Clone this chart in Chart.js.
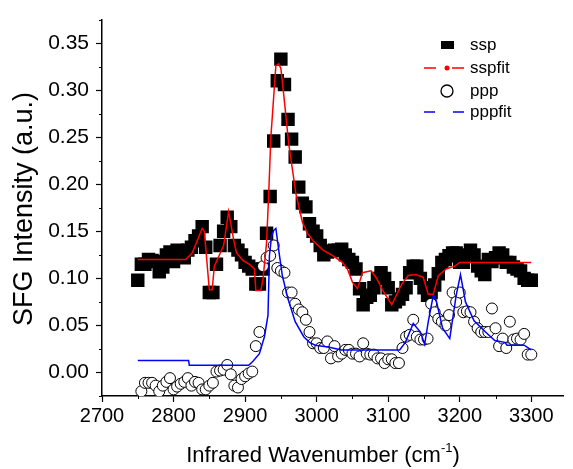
<!DOCTYPE html>
<html>
<head>
<meta charset="utf-8">
<script src="https://cdn.jsdelivr.net/npm/chart.js@4/dist/chart.umd.min.js"></script>
<style>
  html, body { margin: 0; padding: 0; background: #fff; }
  #wrap { width: 573px; height: 469px; }
</style>
</head>
<body>
<div id="wrap"><canvas id="chart" width="573" height="469"></canvas></div>
<script>
// ---------------------
// DATA
// ---------------------
const wavenumbers = [
  2750, 2755, 2760, 2765, 2770, 2775, 2780, 2785, 2790, 2795,
  2800, 2805, 2810, 2815, 2820, 2825, 2830, 2835, 2840, 2845,
  2850, 2855, 2860, 2865, 2870, 2875, 2880, 2885, 2890, 2895,
  2900, 2905, 2910, 2915, 2920, 2925, 2930, 2935, 2940, 2945,
  2950, 2955, 2960, 2965, 2970, 2975, 2980, 2985, 2990, 2995,
  3000, 3005, 3010, 3015, 3020, 3025, 3030, 3035, 3040, 3045,
  3050, 3055, 3060, 3065, 3070, 3075, 3080, 3085, 3090, 3095,
  3100, 3105, 3110, 3115, 3120, 3125, 3130, 3135, 3140, 3145,
  3150, 3155, 3160, 3165, 3170, 3175, 3180, 3185, 3190, 3195,
  3200, 3205, 3210, 3215, 3220, 3225, 3230, 3235, 3240, 3245,
  3250, 3255, 3260, 3265, 3270, 3275, 3280, 3285, 3290, 3295,
  3300
];

const ssp = [
  0.098, 0.115, 0.115, 0.120, 0.119, 0.118, 0.107, 0.112, 0.125, 0.128,
  0.118, 0.130, 0.125, 0.122, 0.130, 0.133, 0.140, 0.145, 0.155, 0.133,
  0.085, 0.085, 0.115, 0.135, 0.150, 0.165, 0.155, 0.135, 0.130, 0.125,
  0.117, 0.113, 0.110, 0.094, 0.094, 0.110, 0.148, 0.187, 0.246, 0.310,
  0.333, 0.306, 0.269, 0.248, 0.229, 0.197, 0.180, 0.176, 0.158, 0.150,
  0.145, 0.135, 0.125, 0.128, 0.129, 0.130, 0.130, 0.131, 0.125, 0.120,
  0.117, 0.110, 0.089, 0.072, 0.080, 0.082, 0.090, 0.100, 0.106, 0.100,
  0.090, 0.072, 0.075, 0.078, 0.083, 0.090, 0.106, 0.113, 0.113, 0.100,
  0.090, 0.082, 0.085, 0.093, 0.105, 0.117, 0.120, 0.124, 0.127, 0.127,
  0.117, 0.117, 0.125, 0.130, 0.125, 0.113, 0.108, 0.104, 0.120, 0.118,
  0.122, 0.127, 0.125, 0.117, 0.117, 0.112, 0.110, 0.108, 0.100, 0.098,
  0.098
];

const ppp = [
  null, -0.020, -0.011, -0.011, -0.011, -0.014, -0.020, -0.014, -0.010, -0.006,
  -0.018, -0.015, -0.012, -0.010, -0.006, -0.014, -0.010, -0.011, -0.018, -0.018,
  -0.014, -0.011, 0.001, 0.002, 0.003, 0.008, -0.002, -0.014, -0.016, -0.007,
  -0.004, -0.001, 0.001, 0.028, 0.043, 0.113, 0.122, 0.124, 0.135, 0.111,
  0.108, 0.106, 0.085, 0.085, 0.073, 0.067, 0.064, 0.056, 0.043, 0.031,
  0.031, 0.026, 0.026, 0.033, 0.015, 0.028, 0.017, 0.020, 0.024, 0.024,
  0.020, 0.020, 0.017, 0.031, 0.020, 0.019, 0.019, 0.015, 0.015, 0.010,
  0.014, 0.014, 0.010, 0.010, 0.026, 0.038, 0.040, 0.056, 0.038, 0.035,
  0.035, 0.036, 0.073, 0.064, 0.057, 0.054, 0.050, 0.061, 0.085, 0.075,
  0.085, 0.064, 0.065, 0.064, 0.054, 0.047, 0.043, 0.043, 0.043, 0.068,
  0.047, 0.028, 0.036, 0.026, 0.054, 0.035, 0.036, 0.035, 0.041, 0.019,
  0.019
];

const sspfitX = [2750, 2817, 2826, 2840, 2843, 2850, 2854, 2857, 2870, 2877,
  2884, 2888, 2897, 2906, 2913, 2915, 2922, 2925, 2930, 2933,
  2936, 2943, 2947, 2950, 2954, 2961, 2971, 2980, 2987, 2995,
  3009, 3023, 3036, 3043, 3050, 3057, 3060, 3064, 3076, 3083,
  3094, 3105, 3119, 3128, 3139, 3149, 3156, 3163, 3170, 3181,
  3193, 3200, 3300];
const sspfitY = [0.120, 0.120, 0.127, 0.153, 0.150, 0.088, 0.088, 0.113, 0.135, 0.171,
  0.141, 0.127, 0.119, 0.115, 0.110, 0.087, 0.087, 0.099, 0.138, 0.190,
  0.250, 0.326, 0.328, 0.323, 0.295, 0.243, 0.190, 0.160, 0.148, 0.140,
  0.130, 0.124, 0.117, 0.110, 0.096, 0.089, 0.096, 0.106, 0.108, 0.101,
  0.085, 0.072, 0.094, 0.103, 0.104, 0.101, 0.083, 0.083, 0.103, 0.110,
  0.113, 0.117, 0.117];

const pppfitX = [2750, 2821, 2822, 2905, 2911, 2920, 2927, 2932, 2934, 2937,
  2940, 2943, 2947, 2952, 2960, 2970, 2982, 2990, 2998, 3016,
  3035, 3116, 3124, 3135, 3145, 3151, 3156, 3163, 3167, 3176,
  3186, 3195, 3201, 3208, 3220, 3236, 3249, 3263, 3266, 3290,
  3300];
const pppfitY = [0.0128, 0.0128, 0.0077, 0.0077, 0.012, 0.020, 0.038, 0.061, 0.124, 0.145,
  0.151, 0.153, 0.130, 0.103, 0.078, 0.054, 0.038, 0.032, 0.029, 0.027,
  0.024, 0.024, 0.032, 0.052, 0.043, 0.030, 0.054, 0.082, 0.077, 0.047,
  0.036, 0.082, 0.104, 0.075, 0.055, 0.043, 0.034, 0.032, 0.029, 0.029,
  0.024];

const xTicks = [2700, 2750, 2800, 2850, 2900, 2950, 3000, 3050, 3100, 3150, 3200, 3250, 3300];
const yTicks = [-0.025, 0, 0.025, 0.05, 0.075, 0.1, 0.125, 0.15, 0.175, 0.2, 0.225, 0.25, 0.275, 0.3, 0.325, 0.35, 0.375];

const legendItems = ['ssp', 'sspfit', 'ppp', 'pppfit'];

// ---------------------
// HELPERS
// ---------------------
const FONT = '"Liberation Sans", Arial, sans-serif';
const pairs = (xs, ys) => xs.map((x, i) => ({ x: x, y: ys[i] }));
const isMajorX = v => Math.round(v) % 100 === 0;
const isMajorY = v => Math.abs(Math.round(v * 1000) % 50) === 0;

// minor ticks, axis titles and legend (Origin style)
const decorations = {
  id: 'decorations',
  afterDraw(chart) {
    const ctx = chart.ctx;
    const xs = chart.scales.x, ys = chart.scales.y;
    const area = chart.chartArea;
    ctx.save();
    ctx.strokeStyle = '#000';
    ctx.lineWidth = 1;
    xTicks.filter(v => !isMajorX(v)).forEach(v => {
      const px = Math.round(xs.getPixelForValue(v)) + 0.5;
      ctx.beginPath();
      ctx.moveTo(px, area.bottom);
      ctx.lineTo(px, area.bottom + 3);
      ctx.stroke();
    });
    yTicks.filter(v => !isMajorY(v)).forEach(v => {
      const py = Math.round(ys.getPixelForValue(v)) + 0.5;
      ctx.beginPath();
      ctx.moveTo(area.left - 3, py);
      ctx.lineTo(area.left, py);
      ctx.stroke();
    });

    // x title with superscript
    ctx.fillStyle = '#000';
    ctx.textBaseline = 'alphabetic';
    const main = 'Infrared Wavenumber (cm';
    ctx.font = '13px ' + FONT;
    const supW = ctx.measureText('-1').width;
    ctx.font = '22px ' + FONT;
    const mainW = ctx.measureText(main).width;
    const closeW = ctx.measureText(')').width;
    const x0 = 323 - (mainW + supW + closeW) / 2;
    ctx.textAlign = 'left';
    ctx.fillText(main, x0, 462);
    ctx.font = '13px ' + FONT;
    ctx.fillText('-1', x0 + mainW, 452);
    ctx.font = '22px ' + FONT;
    ctx.fillText(')', x0 + mainW + supW, 462);

    // y title
    ctx.save();
    ctx.translate(32, 209);
    ctx.rotate(-Math.PI / 2);
    ctx.textAlign = 'center';
    ctx.font = '27px ' + FONT;
    ctx.fillText('SFG Intensity (a.u.)', 0, 0);
    ctx.restore();

    // legend
    const rows = [45, 68, 91, 112];
    const sx = 447, tx = 470;
    ctx.font = '17px ' + FONT;
    ctx.textAlign = 'left';
    ctx.textBaseline = 'middle';
    legendItems.forEach((label, i) => ctx.fillText(label, tx, rows[i]));
    // ssp
    ctx.fillStyle = '#000';
    ctx.fillRect(sx - 6, rows[0] - 4, 13, 8);
    // sspfit
    ctx.strokeStyle = '#ff0000';
    ctx.lineWidth = 1.3;
    ctx.beginPath();
    ctx.moveTo(424, rows[1]); ctx.lineTo(436, rows[1]);
    ctx.moveTo(452, rows[1]); ctx.lineTo(464, rows[1]);
    ctx.stroke();
    ctx.fillStyle = '#ff0000';
    ctx.beginPath();
    ctx.arc(sx, rows[1], 2.5, 0, Math.PI * 2);
    ctx.fill();
    // ppp
    ctx.strokeStyle = '#000';
    ctx.lineWidth = 1.3;
    ctx.beginPath();
    ctx.arc(sx, rows[2], 6, 0, Math.PI * 2);
    ctx.stroke();
    // pppfit
    ctx.strokeStyle = '#0000ff';
    ctx.beginPath();
    ctx.moveTo(424, rows[3]); ctx.lineTo(435, rows[3]);
    ctx.moveTo(453, rows[3]); ctx.lineTo(464, rows[3]);
    ctx.stroke();
    ctx.restore();
  }
};

// ---------------------
// CHART JS
// ---------------------
const ctx = document.getElementById('chart').getContext('2d');

new Chart(ctx, {
  type: 'scatter',
  data: {
    datasets: [
      {
        label: 'sspfit',
        data: pairs(sspfitX, sspfitY),
        showLine: true,
        borderColor: '#ff0000',
        borderWidth: 1.5,
        pointRadius: 0,
        tension: 0,
        order: 0
      },
      {
        label: 'pppfit',
        data: pairs(pppfitX, pppfitY),
        showLine: true,
        borderColor: '#0000ff',
        borderWidth: 1.5,
        pointRadius: 0,
        tension: 0,
        order: 1
      },
      {
        label: 'ppp',
        data: pairs(wavenumbers, ppp).filter(p => p.y !== null),
        pointStyle: 'circle',
        pointRadius: 5.5,
        backgroundColor: '#fff',
        borderColor: '#000',
        borderWidth: 1,
        order: 2
      },
      {
        label: 'ssp',
        data: pairs(wavenumbers, ssp),
        pointStyle: 'rect',
        pointRadius: 9.5,
        backgroundColor: '#000',
        borderWidth: 0,
        order: 3
      }
    ]
  },
  options: {
    responsive: false,
    animation: false,
    devicePixelRatio: 1,
    layout: { padding: { top: 13, right: 0, left: 0, bottom: 0 } },
    plugins: {
      legend: { display: false },
      tooltip: { enabled: false }
    },
    scales: {
      x: {
        type: 'linear',
        min: 2700,
        max: 3345,
        afterBuildTicks: s => { s.ticks = xTicks.map(v => ({ value: v })); },
        afterFit: s => { s.height = 73; },
        border: { display: true, color: '#000', width: 1.5 },
        grid: {
          display: true,
          drawOnChartArea: false,
          drawTicks: true,
          tickLength: 6,
          tickWidth: 1.2,
          tickColor: c => isMajorX(c.tick.value) ? '#000' : 'rgba(0,0,0,0)'
        },
        ticks: {
          autoSkip: false,
          maxRotation: 0,
          padding: 2,
          color: '#000',
          font: { family: FONT, size: 20 },
          callback: v => isMajorX(v) ? String(v) : ''
        }
      },
      y: {
        type: 'linear',
        min: -0.025,
        max: 0.375,
        afterBuildTicks: s => { s.ticks = yTicks.map(v => ({ value: v })); },
        afterFit: s => { s.width = 102; },
        border: { display: true, color: '#000', width: 1.5 },
        grid: {
          display: true,
          drawOnChartArea: false,
          drawTicks: true,
          tickLength: 6,
          tickWidth: 1.2,
          tickColor: c => isMajorY(c.tick.value) ? '#000' : 'rgba(0,0,0,0)'
        },
        ticks: {
          autoSkip: false,
          padding: 7,
          color: '#000',
          font: { family: FONT, size: 21 },
          callback: v => isMajorY(v) ? v.toFixed(2) : ''
        }
      }
    }
  },
  plugins: [decorations]
});
</script>
</body>
</html>
